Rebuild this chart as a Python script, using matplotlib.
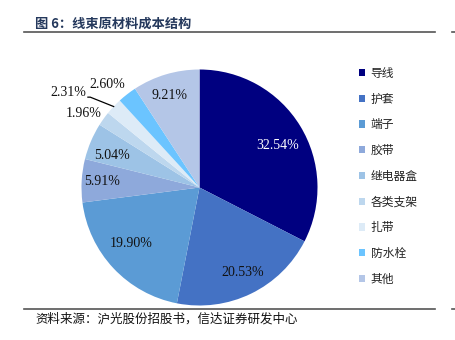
import numpy as np
import matplotlib
matplotlib.use('Agg')
from matplotlib import pyplot as plt
from matplotlib.lines import Line2D

plt.rcParams['font.family'] = ['Noto Sans CJK SC', 'DejaVu Sans']

# 线束原材料成本结构 (%)
materials = ['导线', '护套', '端子', '胶带', '继电器盒', '各类支架', '扎带', '防水栓', '其他']
shares = [32.54, 20.53, 19.90, 5.91, 5.04, 1.96, 2.31, 2.60, 9.21]

colors = ['#000080', '#4472C4', '#5B9BD5', '#8EA9DB', '#9DC3E6',
          '#BDD7EE', '#DDEBF7', '#6BC4FF', '#B4C6E7']
# label placement per slice: (radius, angle tweak in degrees)
label_pos = [(0.75, -3), (0.81, 1), (0.75, -4), (0.83, 0), (0.79, 3),
             (1.17, 3), (1.36, 7), (1.17, 4), (0.82, 1.5)]

W, H = 455, 340
fig = plt.figure(figsize=(W / 100, H / 100), dpi=100)

# pie axes in pixel terms: centre (199.5, 187.5), radius 118
cx, cy, r = 199.5, 187.5, 118
ax = fig.add_axes([(cx - r) / W, (H - cy - r) / H, 2 * r / W, 2 * r / H])

wedges, _ = ax.pie(shares, colors=colors, startangle=90, counterclock=False,
                   radius=1, wedgeprops=dict(linewidth=0))
ax.set_xlim(-1, 1)
ax.set_ylim(-1, 1)
ax.set_axis_off()

for i, (w, v) in enumerate(zip(wedges, shares)):
    mid = np.deg2rad((w.theta1 + w.theta2) / 2)
    rad, tweak = label_pos[i]
    a = mid + np.deg2rad(tweak)
    x, y = rad * np.cos(a), rad * np.sin(a)
    col = 'white' if i == 0 else '#111111'
    if materials[i] == '扎带':
        # leader line from wedge edge to label
        ex, ey = np.cos(mid), np.sin(mid)
        ax.plot([ex, x + 0.17, x + 0.15], [ey, y - 0.04, y - 0.04],
                color='black', lw=0.9, clip_on=False)
        ax.text(x + 0.14, y, f'{v:.2f}%', ha='right', va='center', fontsize=10,
                family='Liberation Serif', color=col, clip_on=False)
    else:
        ax.text(x, y, f'{v:.2f}%', ha='center', va='center', fontsize=10,
                family='Liberation Serif', color=col, clip_on=False)

# legend
leg = fig.legend(wedges, materials, loc='upper left',
                 bbox_to_anchor=(354 / W, 1 - 62 / H), frameon=False,
                 fontsize=8.5, handlelength=0.55, handleheight=0.55,
                 handletextpad=0.45, labelspacing=1.08, borderaxespad=0)
for t in leg.get_texts():
    t.set_color('#222222')

# title and rules
fig.text(35 / W, 1 - 24 / H, '图 6：线束原材料成本结构', fontsize=9.5,
         fontweight='bold', color='#24385C', va='center', ha='left')
for yy in (32, 309):
    fig.add_artist(Line2D([24 / W, 435 / W], [1 - yy / H, 1 - yy / H],
                          color='#555555', lw=1.2))
    fig.add_artist(Line2D([452 / W, 1.0], [1 - yy / H, 1 - yy / H],
                          color='#555555', lw=1.2))

fig.text(35 / W, 1 - 319 / H, '资料来源：沪光股份招股书，信达证券研发中心',
         fontsize=9, color='#111111', va='center', ha='left')

fig.savefig('out.png', dpi=100)
